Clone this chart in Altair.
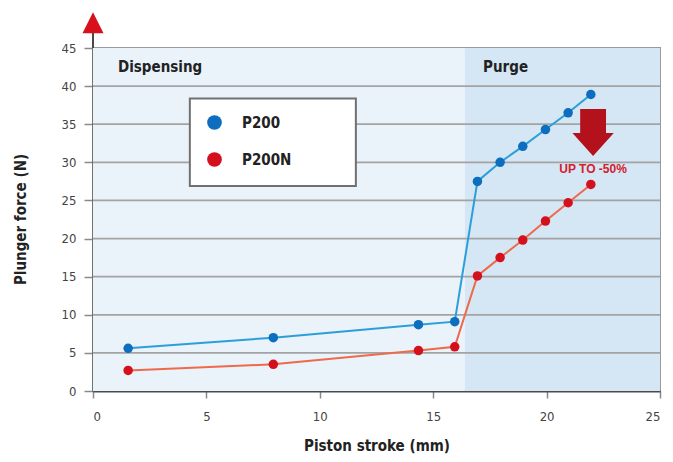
import altair as alt
import pandas as pd

# ---- data ----
stroke_mm = [1.55, 7.95, 14.35, 15.95, 16.95, 17.95, 18.95, 19.95, 20.95, 21.95]
force_p200 = [5.6, 7.0, 8.7, 9.1, 27.5, 30.0, 32.1, 34.3, 36.5, 38.9]
force_p200n = [2.7, 3.5, 5.3, 5.8, 15.1, 17.5, 19.8, 22.3, 24.7, 27.1]
series_names = ["P200", "P200N"]
point_colors = ["#0d6ebf", "#d4101c"]
line_colors = ["#2b9fd9", "#ee6a4b"]

phase_names = ["Dispensing", "Purge"]
phase_start = [0, 16.4]
phase_end = [16.4, 25]
phase_colors = ["#eaf2fa", "#d5e6f4"]
phase_label_x = [1.1, 17.2]
phase_label_y = [42.5, 42.5]

x_ticks = [0, 5, 10, 15, 20, 25]
y_ticks = [0, 5, 10, 15, 20, 25, 30, 35, 40, 45]
grid_levels = [5, 10, 15, 20, 25, 30, 35, 40]

note_text = ["UP TO -50%"]
note_x = [22.05]
note_y = [29.1]
arrow_x = [22.05]
arrow_y = [33.9]
axis_tip_y = [48.3]
axis_top = [45]
legend_box_x = [4.27, 11.59]
legend_box_y = [38.36, 26.89]

FONT = "DejaVu Sans Condensed, Liberation Sans Narrow, sans-serif"

rows = []
for i, x in enumerate(stroke_mm):
    rows.append({"stroke": x, "force": force_p200[i], "series": series_names[0]})
    rows.append({"stroke": x, "force": force_p200n[i], "series": series_names[1]})
df = pd.DataFrame(rows)

phases = pd.DataFrame({"phase": phase_names, "x0": phase_start, "x1": phase_end,
                       "lx": phase_label_x, "ly": phase_label_y})
grid = pd.DataFrame({"g": grid_levels})
note = pd.DataFrame({"t": note_text, "x": note_x, "y": note_y})
arrow = pd.DataFrame({"x": arrow_x, "y": arrow_y})
tip = pd.DataFrame({"x": [0], "y": axis_tip_y, "y0": axis_top})
lbox = pd.DataFrame({"x0": [legend_box_x[0]], "x1": [legend_box_x[1]],
                     "y0": [legend_box_y[0]], "y1": [legend_box_y[1]]})

xs = alt.Scale(domain=[0, 25], nice=False, zero=False)
ys = alt.Scale(domain=[0, 45], nice=False, zero=False)

x_axis = alt.Axis(values=x_ticks, grid=False, title="Piston stroke (mm)",
                  tickSize=7, labelPadding=12, titleY=54, titleBaseline="middle",
                  labelOverlap=False)
y_axis = alt.Axis(values=y_ticks, grid=False, title="Plunger force (N)",
                  tickSize=9, labelPadding=8, titleX=-73, titleY=171,
                  titleBaseline="middle", titleAlign="center", titleAngle=-90,
                  labelOverlap=False)


def X(field):
    return alt.X(field, scale=xs, axis=x_axis)


def Y(field):
    return alt.Y(field, scale=ys, axis=y_axis)


bands = alt.Chart(phases).mark_rect(opacity=1).encode(
    x=X("x0:Q"),
    x2="x1:Q",
    fill=alt.Fill("phase:N", scale=alt.Scale(domain=phase_names, range=phase_colors), legend=None),
)

gridlines = alt.Chart(grid).mark_rule(color="#a3a3a3", strokeWidth=1.8).encode(
    y=Y("g:Q")
)

legend_box = alt.Chart(lbox).mark_rect(
    fill="white", stroke="#707070", strokeWidth=2, opacity=1
).encode(x=X("x0:Q"), x2="x1:Q", y=Y("y0:Q"), y2="y1:Q")

phase_text = alt.Chart(phases).mark_text(
    align="left", baseline="middle", font=FONT, fontSize=15, fontWeight="bold", color="#222222"
).encode(x=X("lx:Q"), y=Y("ly:Q"), text="phase:N")

lines = alt.Chart(df).mark_line(strokeWidth=2).encode(
    x=X("stroke:Q"),
    y=Y("force:Q"),
    stroke=alt.Stroke("series:N", scale=alt.Scale(range=line_colors), legend=None),
)

points = alt.Chart(df).mark_circle(size=90, opacity=1).encode(
    x=X("stroke:Q"),
    y=Y("force:Q"),
    color=alt.Color("series:N", scale=alt.Scale(domain=series_names, range=point_colors),
                    legend=alt.Legend(title=None, orient="none", legendX=97, legendY=50)),
)

arrow_mark = alt.Chart(arrow).mark_point(
    shape="M-0.55,-1L0.55,-1L0.55,0.02L0.88,0.02L0,1L-0.88,0.02L-0.55,0.02Z",
    filled=True, size=2209, color="#b3121c", opacity=1, strokeWidth=0
).encode(x=X("x:Q"), y=Y("y:Q"))

note_mark = alt.Chart(note).mark_text(
    font="Liberation Sans, Arial, sans-serif", fontSize=12, fontWeight="bold", color="#d3202c"
).encode(x=X("x:Q"), y=Y("y:Q"), text="t:N")

tip_rule = alt.Chart(tip).mark_rule(color="#4a4a4a", strokeWidth=2).encode(
    x=X("x:Q"), y=Y("y0:Q"), y2="y:Q"
)
tip_mark = alt.Chart(tip).mark_point(
    shape="M0,-1L1,1L-1,1Z", filled=True, size=441, color="#d8101c", opacity=1, strokeWidth=0
).encode(x=X("x:Q"), y=Y("y:Q"))

chart = alt.layer(
    bands, gridlines, legend_box, phase_text, lines, points, arrow_mark, note_mark,
    tip_rule, tip_mark
).properties(
    width=567, height=343,
    autosize=alt.AutoSizeParams(type="none"),
    padding={"left": 85, "top": 40, "right": 5, "bottom": 63},
    background="white",
).configure_view(
    stroke="#9a9a9a", strokeWidth=2
).configure_axis(
    domainColor="#4a4a4a", domainWidth=2, tickColor="#8a8a8a", tickWidth=1.5,
    labelFont=FONT, labelFontSize=13, labelColor="#444444",
    titleFont=FONT, titleFontSize=15, titleFontWeight="bold", titleColor="#222222",
).configure_legend(
    strokeColor="transparent", padding=17,
    rowPadding=21, symbolSize=215, symbolType="circle", symbolOpacity=1,
    symbolStrokeWidth=0, labelOffset=20, labelFont=FONT, labelFontSize=15,
    labelFontWeight="bold", labelColor="#222222",
)

chart.save("out.html", embed_options={"renderer": "svg", "actions": False})
